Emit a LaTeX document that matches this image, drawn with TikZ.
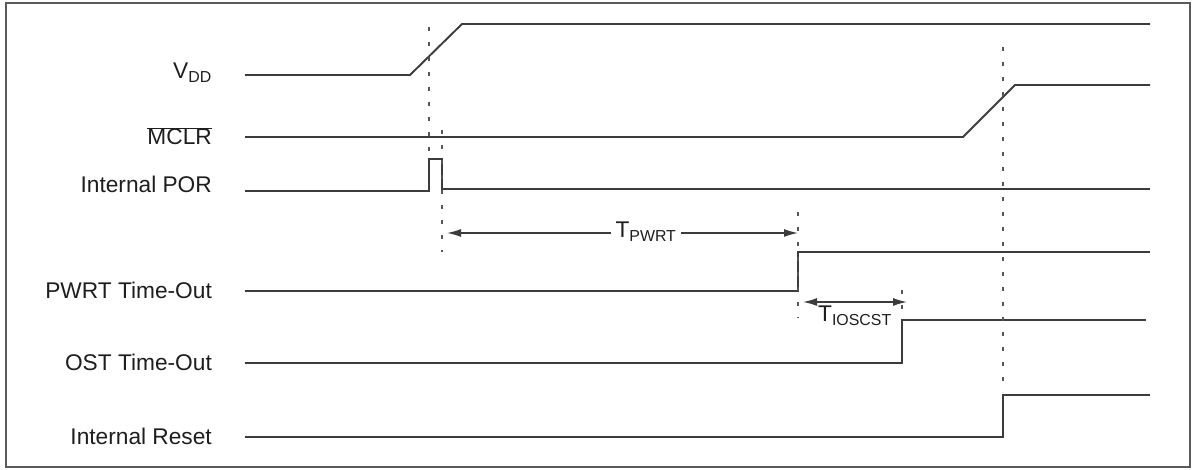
\documentclass[tikz,border=0pt]{standalone}
\usepackage{fontspec}
\setmainfont{Liberation Sans}
\usetikzlibrary{arrows.meta}
\definecolor{ink}{HTML}{1E1E1E}
\definecolor{wave}{HTML}{3C3C3C}
\definecolor{guidecol}{HTML}{555555}
\definecolor{framecol}{HTML}{5A5A5A}
\def\xa{245}
\def\xb{1150}
\def\xl{212}
\tikzset{
  sig/.style={wave,line width=1.9pt},
  guide/.style={guidecol,line width=2pt,dash pattern=on 4.5pt off 10.5pt},
  span/.style={wave,line width=1.4pt,{Latex[length=14pt,width=8pt]}-{Latex[length=14pt,width=8pt]}},
  lbl/.style={ink,anchor=base east,inner sep=0pt,font=\fontsize{22.7}{27}\selectfont},
  tlbl/.style={ink,inner sep=0pt,font=\fontsize{22.7}{27}\selectfont},
}

\begin{document}
\begin{tikzpicture}[x=1pt,y=-1pt]

\useasboundingbox (0,0) rectangle (1195,470);
\draw[framecol,line width=1.8pt] (6,3) rectangle (1190,467);

% ---------------------------------------------------------------- signal names
\foreach \n/\y/\t in {vdd/79/V\textsubscript{DD},
                      mclr/145/{$\overline{\mbox{MCLR}}$},
                      por/193/Internal POR,
                      pwrt/299/PWRT Time-Out,
                      ost/371/OST Time-Out,
                      rst/444/Internal Reset}
  {\node[lbl] (lbl-\n) at (\xl,\y) {\t};}

% ---------------------------------------------------------------- waveforms
\draw[sig] (\xa,75) -- (410,75) -- (462,24) -- (\xb,24);
\draw[sig] (\xa,137) -- (963,137) -- (1015,85) -- (\xb,85);
\draw[sig] (\xa,191) -- (429,191) -- (429,159) -- (442,159) -- (442,189) -- (\xb,189);
\draw[sig] (\xa,291) -- (798,291) -- (798,252) -- (\xb,252);
\draw[sig] (\xa,363) -- (902,363) -- (902,320) -- (1146,320);
\draw[sig] (\xa,437) -- (1003,437) -- (1003,395) -- (\xb,395);

% ---------------------------------------------------------------- dotted markers
\foreach \x/\ya/\yb in {429/27/157, 442/130/252, 798/212/318, 902/290/318, 1003/47/392}
  {\draw[guide] (\x,\ya) -- (\x,\yb);}

% ---------------------------------------------------------------- intervals
\coordinate (pwrtA) at (447,233);
\coordinate (pwrtB) at (798,233);
\draw[span] (pwrtA) -- (pwrtB);
\node[tlbl,anchor=base,fill=white,inner xsep=5pt] (tpwrt) at (646,238) {T\textsubscript{PWRT}};

\coordinate (oscA) at (803,302);
\coordinate (oscB) at (907,302);
\draw[span] (oscA) -- (oscB);
\node[tlbl,anchor=base west] (tosc) at (818,322) {T\textsubscript{IOSCST}};

\end{tikzpicture}
\end{document}
